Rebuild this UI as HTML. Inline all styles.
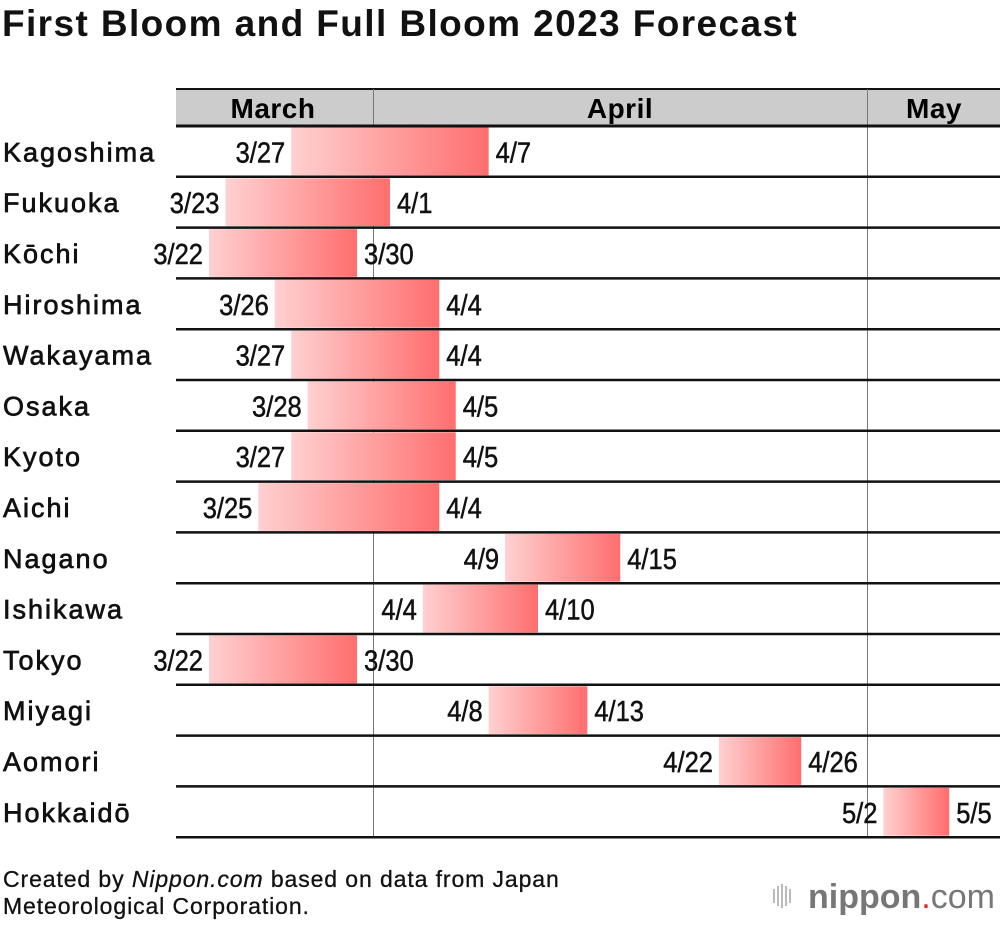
<!DOCTYPE html>
<html><head><meta charset="utf-8">
<style>
body{margin:0;background:#fff;width:1000px;height:920px;overflow:hidden;font-family:"Liberation Sans",sans-serif}
svg text{font-family:"Liberation Sans",sans-serif}
.n{font-size:29px;fill:#111;stroke:#111;stroke-width:0.5}
</style></head><body>
<svg id="c" width="1000" height="920">
<defs><linearGradient id="g" x1="0" x2="1" y1="0" y2="0"><stop offset="0" stop-color="#ffd0d0"/><stop offset="1" stop-color="#ff6e6e"/></linearGradient></defs>
<text x="2" y="36" font-size="37" font-weight="bold" letter-spacing="1.4" fill="#111">First Bloom and Full Bloom 2023 Forecast</text>
<rect x="176" y="89" width="824" height="37" fill="#cccccc"/>
<line x1="176" y1="89" x2="1000" y2="89" stroke="#111" stroke-width="2"/>
<text x="273" y="118" font-size="28" font-weight="bold" letter-spacing="0.5" text-anchor="middle">March</text>
<text x="620" y="118" font-size="28" font-weight="bold" letter-spacing="0.5" text-anchor="middle">April</text>
<text x="934" y="118" font-size="28" font-weight="bold" letter-spacing="0.5" text-anchor="middle">May</text>
<g id="rows"></g>
<text x="3" y="887" font-size="23" letter-spacing="0.9" fill="#111" stroke="#111" stroke-width="0.3">Created by <tspan font-style="italic">Nippon.com</tspan> based on data from Japan</text>
<text x="3" y="914" font-size="23" letter-spacing="0.9" fill="#111" stroke="#111" stroke-width="0.3">Meteorological Corporation.</text>
<g>
<g fill="#bbb"><rect x="773" y="889" width="2" height="14"/><rect x="777" y="886" width="2" height="20"/><rect x="781" y="884" width="2" height="24"/><rect x="785" y="886" width="2" height="20"/><rect x="789" y="889" width="2" height="14"/></g>
<text x="808" y="908" font-size="34" fill="#777" textLength="187" lengthAdjust="spacingAndGlyphs"><tspan font-weight="bold">nippon</tspan><tspan fill="#e8232a">.</tspan>com</text>
</g>
</svg>
<script>
const cities=["Kagoshima","Fukuoka","Kōchi","Hiroshima","Wakayama","Osaka","Kyoto","Aichi","Nagano","Ishikawa","Tokyo","Miyagi","Aomori","Hokkaidō"];
const firstBloom=["3/27","3/23","3/22","3/26","3/27","3/28","3/27","3/25","4/9","4/4","3/22","4/8","4/22","5/2"];
const fullBloom=["4/7","4/1","3/30","4/4","4/4","4/5","4/5","4/4","4/15","4/10","3/30","4/13","4/26","5/5"];
const monthStart={3:-31,4:0,5:30};
const NS="http://www.w3.org/2000/svg";
const g=document.getElementById('rows');
function dayIdx(s){const [m,d]=s.split('/').map(Number);return monthStart[m]+d-1;}
function xs(i){return 373.5+i*16.45;}
const top0=126,rh=50.8;
function mk(t,a){const e=document.createElementNS(NS,t);for(const k in a)e.setAttribute(k,a[k]);g.appendChild(e);return e;}
cities.forEach((c,i)=>{
 const y0=top0+i*rh,y1=y0+rh;
 const x0=xs(dayIdx(firstBloom[i])),x1=xs(dayIdx(fullBloom[i])+1);
 const b=mk('rect',{x:x0,y:y0+1.5,width:x1-x0,height:rh-3,fill:'url(#g)'});
 
 
 const l=mk('text',{x:3,y:(y0+y1)/2+10,'font-size':27,fill:'#111',stroke:'#111','stroke-width':0.7,'letter-spacing':2});l.textContent=c;
 
 
 const s=mk('text',{transform:`translate(${x0-6},${(y0+y1)/2+11}) scale(0.88,1)`,'text-anchor':'end',class:'n'});s.textContent=firstBloom[i];
 
 
 const e=mk('text',{transform:`translate(${x1+7},${(y0+y1)/2+11}) scale(0.88,1)`,class:'n'});e.textContent=fullBloom[i];
 
 
});
[373.5,867.5].forEach(x=>{const v=mk('line',{x1:x,y1:89,x2:x,y2:top0+14*rh,stroke:'#777','stroke-width':1});
 
 
 g.insertBefore(v,g.firstChild);});
for(let i=0;i<=14;i++){const h=mk('line',{x1:176,x2:1000,y1:top0+i*rh,y2:top0+i*rh,stroke:'#111','stroke-width':i==0?3:2.5});
 
 }
</script>
</body></html>
